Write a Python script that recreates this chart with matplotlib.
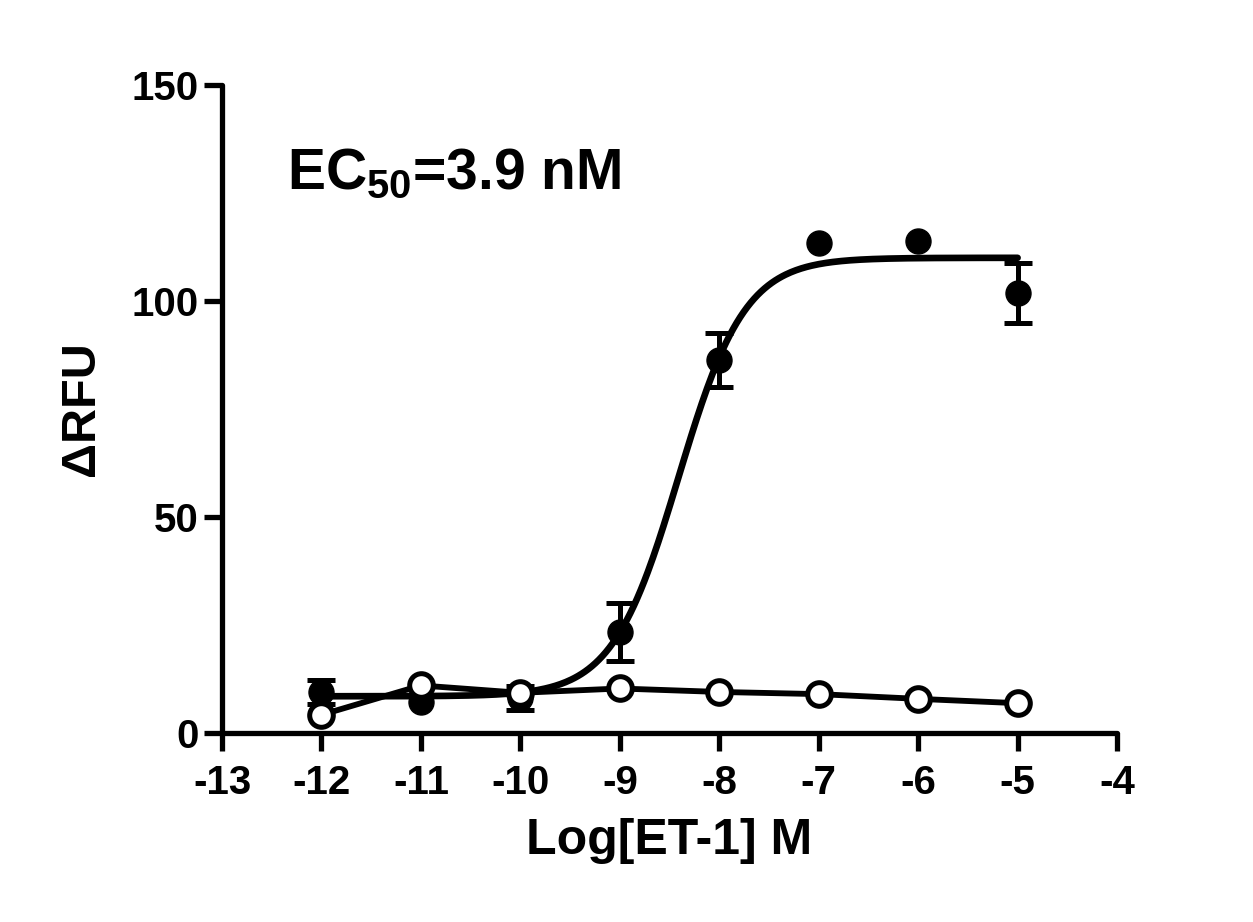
##############################################################################
# ET-1 dose response (dRFU vs log concentration)
##############################################################################
import numpy as np
import matplotlib
matplotlib.use('Agg')
import matplotlib.pyplot as plt

plt.rcParams['font.family'] = ['Liberation Sans', 'DejaVu Sans']
plt.rcParams['font.weight'] = 'bold'
plt.rcParams['mathtext.default'] = 'regular'
plt.rcParams['axes.unicode_minus'] = False
###############################################################################
# Data
###############################################################################
logConc = [-12, -11, -10, -9, -8, -7, -6, -5]
etMean = [9.5, 7.2, 8.1, 23.4, 86.3, 113.4, 113.9, 101.9]
etErr = [2.8, 0.0, 2.8, 6.8, 6.2, 0.0, 0.0, 7.0]
ctrlMean = [4.2, 11.0, 9.3, 10.3, 9.5, 9.0, 7.9, 6.9]
# four parameter logistic fit
(BOTTOM, TOP, EC50, HILL) = (8.5, 110.0, 3.9e-9, 1.3)
###############################################################################
# Fit curve
###############################################################################
xFit = np.linspace(min(logConc), max(logConc), 400)
yFit = BOTTOM + (TOP - BOTTOM) / (1 + 10**((np.log10(EC50) - xFit) * HILL))
# error bars only where they stick out of the marker
msk = np.array(etErr) > 0
###############################################################################
# Figure
###############################################################################
fig = plt.figure(figsize=(12.53, 9.22), dpi=100, facecolor='w')
ax = fig.add_axes([0.1772, 0.2050, 0.7143, 0.7028])

ax.plot(xFit, yFit, color='k', lw=4.8, solid_capstyle='round', zorder=3)
ax.errorbar(
    np.array(logConc)[msk], np.array(etMean)[msk],
    yerr=np.array(etErr)[msk], fmt='none', ecolor='k',
    elinewidth=3.6, capsize=10, capthick=3.6, zorder=4
)
ax.plot(logConc, etMean, 'o', color='k', ms=18, zorder=4)
ax.plot(
    logConc, ctrlMean, '-o', color='k', lw=4.2, ms=17,
    mfc='white', mec='k', mew=3.6, zorder=5
)

ax.set_xlim(-13, -4)
ax.set_ylim(0, 150)
ax.set_xticks(range(-13, -3))
ax.set_yticks([0, 50, 100, 150])
for s in ['top', 'right']:
    ax.spines[s].set_visible(False)
for s in ['left', 'bottom']:
    ax.spines[s].set_linewidth(3.8)
    ax.spines[s].set_capstyle('round')
ax.tick_params(
    direction='out', length=13, width=3.8, labelsize=29, pad=4
)
ax.tick_params(axis='x', pad=9)
ax.set_xlabel('Log[ET-1] M', fontsize=36, fontweight='bold', labelpad=12)
ax.set_ylabel('\u0394RFU', fontsize=35, fontweight='bold', labelpad=20)
ax.text(
    -12.35, 126, 'EC$_{50}$=3.9 nM', fontsize=41, fontweight='bold',
    ha='left', va='baseline'
)
plt.savefig('out.png', dpi=100, facecolor='w')
plt.close('all')
